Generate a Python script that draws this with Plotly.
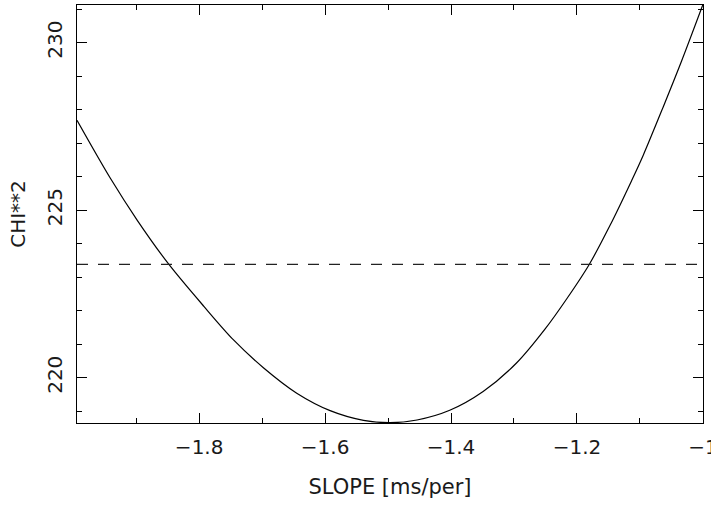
import plotly.graph_objects as go

slope = [-1.994, -1.941, -1.898, -1.848, -1.7925, -1.745, -1.698, -1.645, -1.592,
         -1.539, -1.497, -1.454, -1.402, -1.349, -1.296, -1.2508, -1.2164, -1.1805,
         -1.1476, -1.1132, -1.0947, -1.0630, -1.0338, -1.0]
chi2 = [227.68, 225.95, 224.69, 223.38, 222.13, 221.12, 220.30, 219.54, 219.02,
        218.73, 218.66, 218.74, 219.03, 219.59, 220.44, 221.45, 222.35, 223.38,
        224.54, 225.88, 226.64, 228.08, 229.45, 231.13]
level_x = [-1.994, -1.0]
level_y = [223.38, 223.38]

x_tickvals = [-1.8, -1.6, -1.4, -1.2, -1.0]
x_ticktext = ["\u22121.8", "\u22121.6", "\u22121.4", "\u22121.2", "\u22121"]
y_tickvals = [220, 225, 230]
y_ticktext = ["220", "225", "230"]

FONT = "DejaVu Sans"
TXT = "#1a1a1a"

fig = go.Figure()
fig.add_trace(go.Scatter(x=slope, y=chi2, mode="lines",
                         line=dict(color="black", width=1.2, shape="spline", smoothing=0.9),
                         hoverinfo="skip", showlegend=False))
fig.add_trace(go.Scatter(x=level_x, y=level_y, mode="lines",
                         line=dict(color="#222222", width=1.2, dash="11px,10px"),
                         hoverinfo="skip", showlegend=False))

axis_common = dict(showline=True, linecolor="black", linewidth=1, mirror="allticks",
                   ticks="inside", ticklen=10, tickwidth=1, tickcolor="black",
                   showgrid=False, zeroline=False, ticklabeloverflow="allow",
                   tickfont=dict(family=FONT, size=20, color=TXT))

fig.update_xaxes(range=[-1.994, -0.9998], tickvals=x_tickvals, ticktext=x_ticktext,
                 minor=dict(ticks="inside", ticklen=5, tickwidth=1, tickcolor="black",
                            dtick=0.1, tick0=-2.0, showgrid=False),
                 title=dict(text="SLOPE [ms/per]", font=dict(family=FONT, size=21, color=TXT),
                            standoff=21),
                 ticklabelstandoff=6,
                 **axis_common)
fig.update_yaxes(range=[218.65, 231.12], tickvals=y_tickvals, ticktext=y_ticktext,
                 tickangle=-90,
                 minor=dict(ticks="inside", ticklen=5, tickwidth=1, tickcolor="black",
                            dtick=1, tick0=218, showgrid=False),
                 title=dict(text="CHI**2", font=dict(family=FONT, size=20, color=TXT),
                            standoff=12),
                 ticklabelstandoff=6,
                 **axis_common)

fig.update_layout(width=711, height=506,
                  margin=dict(l=77, r=8, t=5, b=83, autoexpand=False),
                  paper_bgcolor="white", plot_bgcolor="white")

fig.write_html("out.html", config={"displayModeBar": False},
               post_script="document.body.style.margin='0';")
